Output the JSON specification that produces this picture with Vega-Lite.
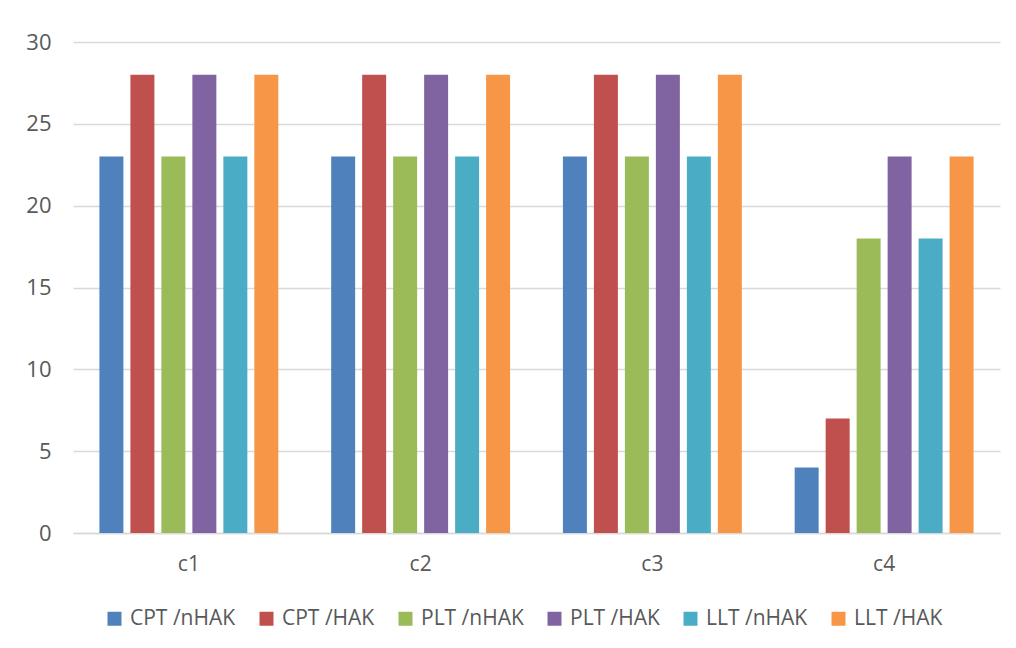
{
  "$schema": "https://vega.github.io/schema/vega-lite/v6.json",
  "width": 927,
  "height": 491,
  "autosize": {"type": "none"},
  "padding": {"left": 73, "top": 42, "right": 16, "bottom": 115},
  "background": "white",
  "config": {
    "view": {"stroke": null},
    "font": "Open Sans"
  },
  "data": {
    "values": [
      {"cat": "c1", "series": "CPT /nHAK", "value": 23},
      {"cat": "c1", "series": "CPT /HAK", "value": 28},
      {"cat": "c1", "series": "PLT /nHAK", "value": 23},
      {"cat": "c1", "series": "PLT /HAK", "value": 28},
      {"cat": "c1", "series": "LLT /nHAK", "value": 23},
      {"cat": "c1", "series": "LLT /HAK", "value": 28},
      {"cat": "c2", "series": "CPT /nHAK", "value": 23},
      {"cat": "c2", "series": "CPT /HAK", "value": 28},
      {"cat": "c2", "series": "PLT /nHAK", "value": 23},
      {"cat": "c2", "series": "PLT /HAK", "value": 28},
      {"cat": "c2", "series": "LLT /nHAK", "value": 23},
      {"cat": "c2", "series": "LLT /HAK", "value": 28},
      {"cat": "c3", "series": "CPT /nHAK", "value": 23},
      {"cat": "c3", "series": "CPT /HAK", "value": 28},
      {"cat": "c3", "series": "PLT /nHAK", "value": 23},
      {"cat": "c3", "series": "PLT /HAK", "value": 28},
      {"cat": "c3", "series": "LLT /nHAK", "value": 23},
      {"cat": "c3", "series": "LLT /HAK", "value": 28},
      {"cat": "c4", "series": "CPT /nHAK", "value": 4},
      {"cat": "c4", "series": "CPT /HAK", "value": 7},
      {"cat": "c4", "series": "PLT /nHAK", "value": 18},
      {"cat": "c4", "series": "PLT /HAK", "value": 23},
      {"cat": "c4", "series": "LLT /nHAK", "value": 18},
      {"cat": "c4", "series": "LLT /HAK", "value": 23}
    ]
  },
  "mark": {"type": "bar"},
  "encoding": {
    "x": {
      "field": "cat",
      "type": "nominal",
      "scale": {"paddingInner": 0.228, "paddingOuter": 0.114},
      "axis": {
        "title": null,
        "labelAngle": 0,
        "labelFontSize": 21,
        "labelColor": "#595959",
        "labelPadding": 20,
        "ticks": false,
        "domainColor": "#D9D9D9",
        "domainWidth": 1.5
      }
    },
    "xOffset": {
      "field": "series",
      "type": "nominal",
      "sort": ["CPT /nHAK", "CPT /HAK", "PLT /nHAK", "PLT /HAK", "LLT /nHAK", "LLT /HAK"],
      "scale": {"paddingInner": 0.226, "paddingOuter": 0}
    },
    "y": {
      "field": "value",
      "type": "quantitative",
      "scale": {"domain": [0, 30]},
      "axis": {
        "title": null,
        "values": [0, 5, 10, 15, 20, 25, 30],
        "labelFontSize": 22,
        "labelColor": "#595959",
        "labelPadding": 22,
        "ticks": false,
        "domain": false,
        "gridColor": "#D9D9D9",
        "gridWidth": 1.5
      }
    },
    "color": {
      "field": "series",
      "type": "nominal",
      "sort": ["CPT /nHAK", "CPT /HAK", "PLT /nHAK", "PLT /HAK", "LLT /nHAK", "LLT /HAK"],
      "scale": {
        "domain": ["CPT /nHAK", "CPT /HAK", "PLT /nHAK", "PLT /HAK", "LLT /nHAK", "LLT /HAK"],
        "range": ["#4F81BD", "#C0504D", "#9BBB59", "#8064A2", "#4BACC6", "#F79646"]
      },
      "legend": {
        "title": null,
        "orient": "none",
        "legendX": 31,
        "legendY": 566,
        "direction": "horizontal",
        "columns": 6,
        "columnPadding": 20,
        "symbolType": "square",
        "symbolSize": 196,
        "symbolStrokeWidth": 0,
        "labelFontSize": 21,
        "labelColor": "#595959",
        "labelOffset": 5
      }
    }
  }
}
